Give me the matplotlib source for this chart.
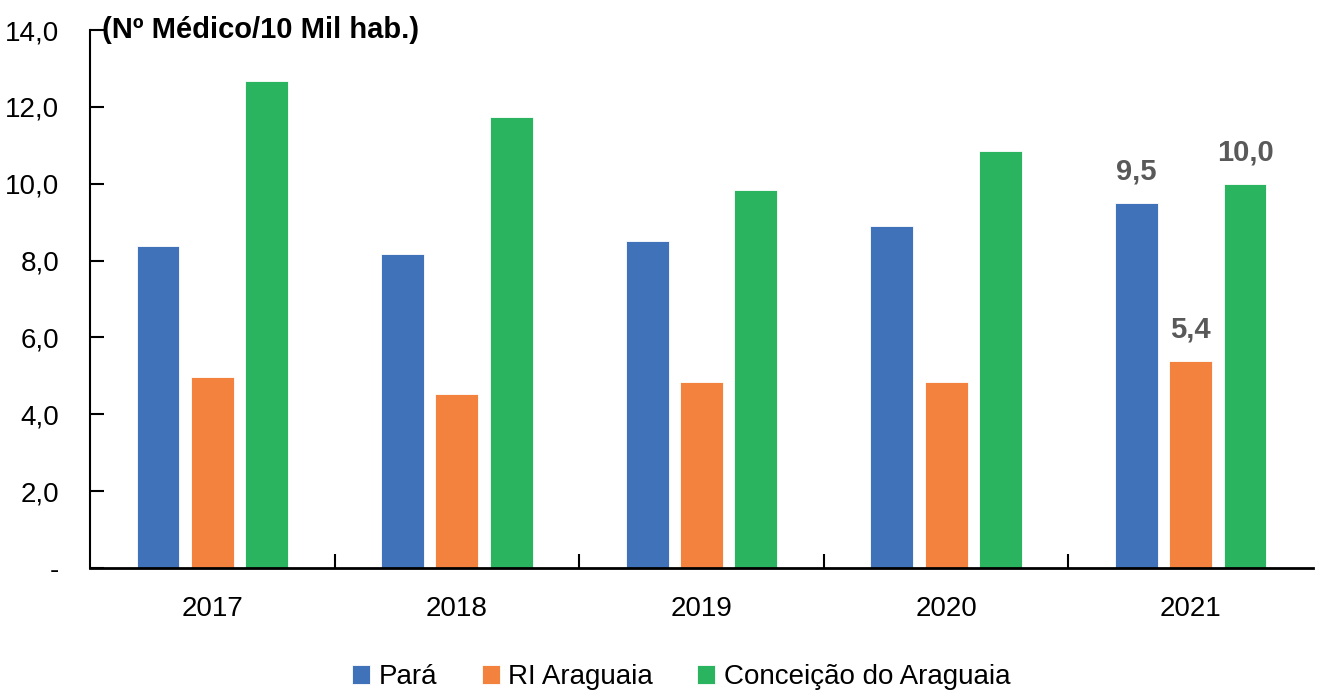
import numpy as np
import matplotlib.pyplot as plt
from matplotlib.font_manager import fontManager

names = set(f.name for f in fontManager.ttflist)
fam = 'Liberation Sans Narrow' if 'Liberation Sans Narrow' in names else 'Liberation Sans'
plt.rcParams['font.family'] = [fam, 'DejaVu Sans']

anos = ['2017', '2018', '2019', '2020', '2021']
para = [8.38, 8.17, 8.51, 8.90, 9.50]
ri_araguaia = [4.97, 4.53, 4.84, 4.84, 5.39]
conceicao = [12.67, 11.74, 9.84, 10.85, 9.99]
series = ['Pará', 'RI Araguaia', 'Conceição do Araguaia']
cores = ['#3f72b9', '#f2823d', '#2bb45f']

fig = plt.figure(figsize=(13.23, 6.91), dpi=100)
ax = fig.add_axes([90/1323, 1 - 568/691, (1313-90)/1323, (568-30)/691])

x = np.arange(len(anos))
w = 0.175
off = 0.222
vals = [para, ri_araguaia, conceicao]
for i, (v, c, n) in enumerate(zip(vals, cores, series)):
    ax.bar(x + (i - 1) * off, v, w, color=c, label=n, edgecolor='white', linewidth=0.6)

# rótulos só em 2021
for i, v in enumerate(vals):
    ax.text(x[-1] + (i - 1) * off, v[-1] + 0.45, ('%.1f' % v[-1]).replace('.', ','),
            ha='center', va='bottom', fontsize=21, fontweight='bold', color='#595959')

ax.set_xlim(-0.5, 4.5)
ax.set_ylim(0, 14)
ax.set_yticks(np.arange(0, 15, 2))
ax.set_yticklabels(['-'] + [('%.1f' % t).replace('.', ',') for t in np.arange(2, 15, 2)], fontsize=20)
ax.set_xticks(x)
ax.set_xticklabels(anos, fontsize=20)
ax.set_xticks(np.arange(0.5, 4.5, 1), minor=True)
ax.tick_params(axis='x', which='major', length=0, pad=20)
ax.tick_params(axis='x', which='minor', direction='in', length=10, width=1.5)
ax.tick_params(axis='y', direction='in', length=10, width=1.5, pad=22)
for s in ['top', 'right']:
    ax.spines[s].set_visible(False)
ax.spines['left'].set_linewidth(1.5)
ax.spines['bottom'].set_linewidth(2)

ax.text(0.01, 14, '(Nº Médico/10 Mil hab.)', transform=ax.get_yaxis_transform(),
        fontsize=21, fontweight='bold', va='center', ha='left')

fig.legend(loc='lower center', bbox_to_anchor=(0.515, -0.035), ncol=3, frameon=False,
           fontsize=20, handlelength=0.65, handleheight=0.65, handletextpad=0.3, columnspacing=1.6)

fig.savefig('out.png', dpi=100)
